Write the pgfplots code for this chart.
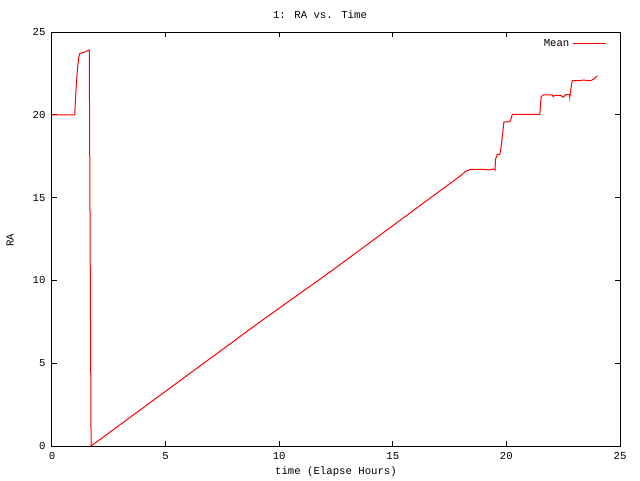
\documentclass[border=0pt]{standalone}
\usepackage{pgfplots}
\pgfplotsset{compat=1.18}
\usepackage{fontspec}
\setmainfont{Liberation Mono}
\setmonofont{Liberation Mono}

% 1px = 0.75pt, page 640x480 px
\begin{document}
\fontsize{8}{10}\selectfont
\begin{tikzpicture}[x=0.75pt,y=0.75pt]
\path[use as bounding box] (0,0) rectangle (640,480);
\begin{axis}[
    at={(52*0.75pt,34*0.75pt)},
    anchor=south west,
    scale only axis,
    width=568*0.75pt,
    height=414*0.75pt,
    xmin=0, xmax=25,
    ymin=0, ymax=25,
    xtick={0,5,...,25},
    ytick={0,5,...,25},
    minor tick num=0,
    tick align=inside,
    major tick length=5*0.75pt,
    tick style={black, line width=0.75pt},
    axis line style={line width=0.75pt},
    /pgf/number format/assume math mode=true,
    ticklabel style={font=\fontsize{8}{10}\selectfont},
    xticklabel style={yshift=-2pt},
    yticklabel style={xshift=-2pt},
    legend style={draw=none, fill=none, at={(1,1)}, anchor=north east,
        xshift=-7pt, yshift=-1.5pt, font=\fontsize{8}{10}\selectfont},
    legend image code/.code={\draw[#1] (0pt,0pt) -- (25pt,0pt);},
    legend plot pos=right,
    legend cell align=right,
    clip=false,
]
\addplot[red, line width=0.75pt, mark=none] coordinates {
(0,20) (1.0,20) (1.04,21.1) (1.08,22.0) (1.13,22.9) (1.18,23.5)
(1.22,23.7) (1.40,23.77) (1.62,23.9) (1.64,23.9) (1.66,18) (1.70,6)
(1.72,0) (9.31,7.65) (12.22,10.49) (17.78,16.12) (17.98,16.32)
(18.20,16.57) (18.42,16.71) (18.94,16.71) (19.23,16.67) (19.42,16.73)
(19.50,16.67) (19.52,17.31) (19.60,17.61) (19.71,17.61) (19.77,18.08)
(19.86,19.18) (19.89,19.57) (20.15,19.57) (20.21,19.79) (20.26,20.03)
(21.47,20.03) (21.53,21.09) (21.62,21.2) (22.02,21.2) (22.06,21.09)
(22.12,21.18) (22.38,21.18) (22.50,21.06) (22.61,21.22) (22.78,21.22)
(22.79,21.06) (22.83,21.5) (22.90,22.06) (23.27,22.06) (23.34,22.1)
(23.71,22.06) (23.85,22.16) (24.00,22.36)
};
\addlegendentry{Mean}
\end{axis}
\node at (320,465) {1: RA vs. Time};
\node at (336,8) {time (Elapse Hours)};
\node[rotate=90] at (10,240) {RA};
\end{tikzpicture}
\end{document}
